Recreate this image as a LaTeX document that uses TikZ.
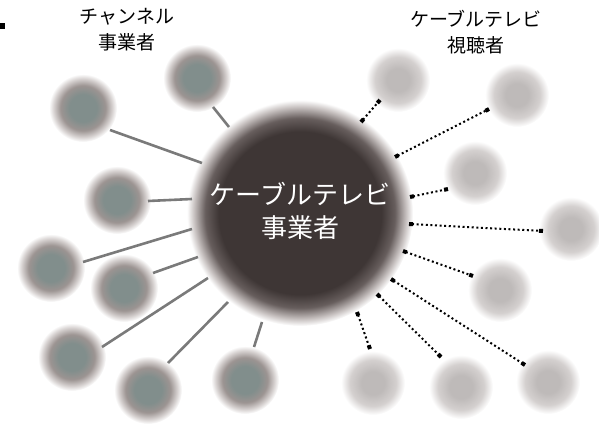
\documentclass[tikz,border=0pt]{standalone}
\usepackage{fontspec}
\setmainfont{Noto Sans CJK JP}
\usetikzlibrary{arrows.meta}
\definecolor{bigc}{HTML}{3E3635}
\definecolor{bigm}{HTML}{675E5D}
\definecolor{bigl}{HTML}{C9C3C2}
\definecolor{chc}{HTML}{818E8C}
\definecolor{chm}{HTML}{9C9492}
\definecolor{chl}{HTML}{D6D1D0}
\definecolor{vwc}{HTML}{BEBAB9}
\definecolor{vwm}{HTML}{D4D0CF}
\definecolor{solidc}{HTML}{7A7A7A}
\pgfdeclareradialshading{bigball}{\pgfpoint{0bp}{0bp}}{color(0bp)=(bigc); color(18bp)=(bigc); color(21bp)=(bigm); color(23.5bp)=(bigl); color(25bp)=(white); color(50bp)=(white)}
\pgfdeclareradialshading{chanball}{\pgfpoint{0bp}{0bp}}{color(0bp)=(chc); color(10bp)=(chc); color(16.5bp)=(chm); color(21.5bp)=(chl); color(25bp)=(white); color(50bp)=(white)}
\pgfdeclareradialshading{viewball}{\pgfpoint{0bp}{0bp}}{color(0bp)=(vwc); color(9bp)=(vwc); color(18bp)=(vwm); color(25bp)=(white); color(50bp)=(white)}
\tikzset{
  bigb/.style={circle, inner sep=0pt, minimum size=226pt, shade, shading=bigball},
  chan/.style={circle, inner sep=0pt, minimum size=68pt, shade, shading=chanball},
  view/.style={circle, inner sep=0pt, minimum size=64pt, shade, shading=viewball},
  solidlink/.style={draw=solidc, line width=2.6pt},
  dotlink/.style={draw=black, line width=2pt, dash pattern=on 2pt off 2.6pt,
    {Square[length=4pt,width=4pt]}-{Square[length=4pt,width=4pt]}},
  lbl/.style={align=center, font=\fontsize{19}{26}\selectfont, text=black},
  biglbl/.style={align=center, font=\fontsize{26}{33}\selectfont, text=white}
}
\begin{document}
\begin{tikzpicture}[x=1pt,y=-1pt]
\useasboundingbox (0,0) rectangle (599,425);
\fill[black] (0,23) rectangle (5,29);
% big ball
\node[bigb] (big) at (300,213) {};
% channel balls
\node[chan] (c1) at (83,108) {};
\node[chan] (c2) at (197,78) {};
\node[chan] (c3) at (117,200) {};
\node[chan] (c4) at (51,268) {};
\node[chan] (c5) at (124,288) {};
\node[chan] (c6) at (72,357) {};
\node[chan] (c7) at (148,390) {};
\node[chan] (c8) at (245,380) {};
% viewer balls
\node[view] (va) at (398,80) {};
\node[view] (vb) at (517,95) {};
\node[view] (vc) at (475,173) {};
\node[view] (vd) at (571,229) {};
\node[view] (ve) at (500,290) {};
\node[view] (vf) at (373,383) {};
\node[view] (vg) at (461,387) {};
\node[view] (vh) at (548,382) {};
% labels
\node[biglbl] (bigtxt) at (300,211) {ケーブルテレビ\\事業者};
\node[lbl] (chlbl) at (127,30) {チャンネル\\事業者};
\node[lbl] (vwlbl) at (476,32) {ケーブルテレビ\\視聴者};
% channel link endpoints
\coordinate (s1o) at (110,130); \coordinate (s1i) at (202,163);
\coordinate (s2o) at (213,107); \coordinate (s2i) at (229,127);
\coordinate (s3o) at (148,201); \coordinate (s3i) at (192,199);
\coordinate (s4o) at (83,262);  \coordinate (s4i) at (192,229);
\coordinate (s5o) at (153,273); \coordinate (s5i) at (198,257);
\coordinate (s6o) at (102,347); \coordinate (s6i) at (208,278);
\coordinate (s7o) at (168,363); \coordinate (s7i) at (228,302);
\coordinate (s8o) at (254,347); \coordinate (s8i) at (262,322);
\foreach \i in {1,...,8} { \draw[solidlink] (s\i o) -- (s\i i); }
% viewer link endpoints
\coordinate (dai) at (361,122); \coordinate (dao) at (380,100);
\coordinate (dbi) at (395,157); \coordinate (dbo) at (489,109);
\coordinate (dci) at (410,197); \coordinate (dco) at (448,189);
\coordinate (ddi) at (409,224); \coordinate (ddo) at (543,231);
\coordinate (dei) at (403,251); \coordinate (deo) at (473,276);
\coordinate (dfi) at (391,279); \coordinate (dfo) at (525,365);
\coordinate (dgi) at (377,294); \coordinate (dgo) at (441,357);
\coordinate (dhi) at (357,312); \coordinate (dho) at (370,349);
\foreach \k in {a,b,c,d,e,f,g,h} { \draw[dotlink] (d\k i) -- (d\k o); }
\end{tikzpicture}
\end{document}
